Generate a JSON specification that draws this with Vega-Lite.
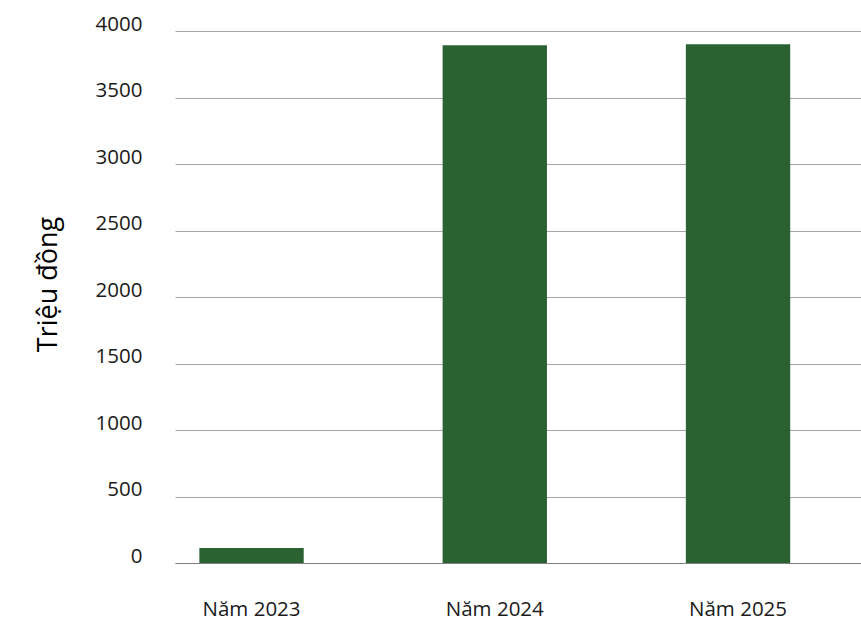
{
  "$schema": "https://vega.github.io/schema/vega-lite/v6.json",
  "autosize": "none",
  "padding": {"left": 175, "top": 31, "right": 0, "bottom": 59},
  "width": 686,
  "height": 532,
  "background": "white",
  "config": {"view": {"stroke": null}, "font": "Open Sans"},
  "data": {"values": [
    {"year": "Năm 2023", "value": 112},
    {"year": "Năm 2024", "value": 3893},
    {"year": "Năm 2025", "value": 3900}
  ]},
  "mark": {"type": "bar", "color": "#2b6232"},
  "encoding": {
    "x": {
      "field": "year", "type": "nominal", "sort": null,
      "scale": {"paddingInner": 0.571, "paddingOuter": 0.1956, "align": 0.256},
      "axis": {"title": null, "labelAngle": 0, "ticks": false, "domain": true, "domainColor": "#808080", "domainWidth": 1.2,
               "labelFontSize": 20.5, "labelColor": "#1a1a1a", "labelBaseline": "alphabetic", "labelPadding": 52, "grid": false}
    },
    "y": {
      "field": "value", "type": "quantitative",
      "scale": {"domain": [0, 4000], "nice": false},
      "axis": {"title": "Triệu đồng", "values": [0, 500, 1000, 1500, 2000, 2500, 3000, 3500, 4000], "format": "d",
               "ticks": false, "domain": false, "grid": true, "gridColor": "#a6a6a6", "gridWidth": 1,
               "labelFontSize": 20.5, "labelColor": "#1a1a1a", "labelPadding": 33, "labelBaseline": "alphabetic", "labelOffset": -1,
               "titleFontSize": 27, "titleFontWeight": "normal", "titleColor": "#000000",
               "titleAngle": -90, "titleAlign": "center", "titleBaseline": "middle", "titleX": -127, "titleY": 253}
    }
  }
}
